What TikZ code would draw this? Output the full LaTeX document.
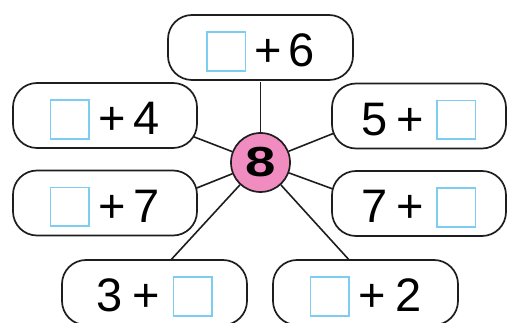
\documentclass[tikz,border=0pt]{standalone}
\usepackage{fontspec}
\setmainfont{Liberation Sans}
\usetikzlibrary{backgrounds}
\definecolor{blankc}{RGB}{125,205,242}
\definecolor{pinkc}{RGB}{240,140,192}
\definecolor{linec}{RGB}{30,30,30}
\newcommand\blank{{\fboxsep=0pt\fboxrule=1.6pt\raisebox{-3pt}{\fcolorbox{blankc}{white}{\rule{0pt}{37pt}\hspace{37pt}}}}}
\begin{document}
\begin{tikzpicture}[x=1pt,y=-1pt,
  sumbox/.style={draw=linec, line width=1.7pt, fill=white, rounded corners=24pt,
    minimum height=65pt, inner sep=0pt, text height=40pt, text depth=1pt,
    font=\fontsize{47}{47}\selectfont},
  centre/.style={circle, draw=linec, line width=1.7pt, fill=pinkc, minimum size=59pt,
    inner sep=0pt, font=\fontsize{42}{42}\selectfont\bfseries},
  conn/.style={draw=linec, line width=1.6pt}]
\useasboundingbox (0,0) rectangle (507,323);
\node[sumbox, minimum width=185pt] (t) at (260.5,47.5) {\blank\hspace{8pt}+\hspace{7pt}6};
\node[sumbox, minimum width=184pt] (lu) at (105,115.5) {\blank\hspace{8pt}+\hspace{8.5pt}4};
\node[sumbox, minimum width=184pt] (ll) at (105,203) {\blank\hspace{8pt}+\hspace{8.5pt}7};
\node[sumbox, minimum width=174pt] (ru) at (419,116) {5\hspace{8.5pt}+\hspace{12.5pt}\blank};
\node[sumbox, minimum width=174pt] (rl) at (419,203.5) {7\hspace{8.5pt}+\hspace{12.5pt}\blank};
\node[sumbox, minimum width=185pt] (bl) at (154.5,292.5) {3\hspace{10.5pt}+\hspace{12.5pt}\blank};
\node[sumbox, minimum width=185pt] (br) at (365.5,292.5) {\blank\hspace{8.5pt}+\hspace{9.5pt}2};
\node[centre] (c) at (260.5,162.5) {\scalebox{1.3}[1]{8}};
\coordinate (pt) at (260.5,82);
\coordinate (plu) at (193,136.5);
\coordinate (pll) at (193,189.5);
\coordinate (pru) at (337,132);
\coordinate (prl) at (337,190.5);
\coordinate (pbl) at (169,262);
\coordinate (pbr) at (351,262);
\begin{pgfonlayer}{background}
\draw[conn] (c) -- (pt);
\draw[conn] (c) -- (plu);
\draw[conn] (c) -- (pll);
\draw[conn] (c) -- (pru);
\draw[conn] (c) -- (prl);
\draw[conn] (c) -- (pbl);
\draw[conn] (c) -- (pbr);
\end{pgfonlayer}
\end{tikzpicture}
\end{document}
